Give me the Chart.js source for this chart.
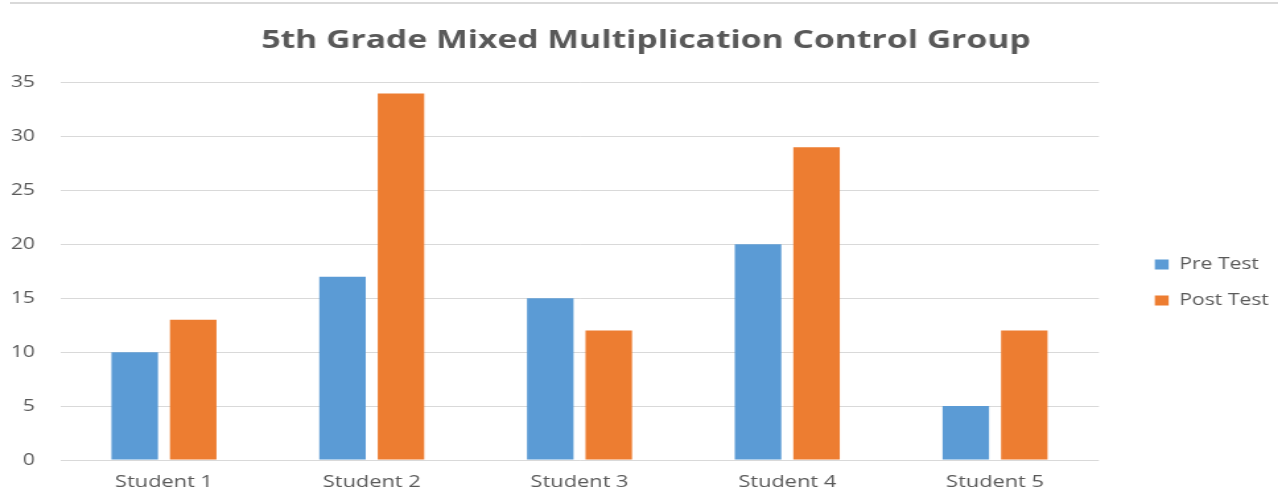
<!DOCTYPE html>
<html>
<head>
<meta charset="utf-8">
<script src="https://cdn.jsdelivr.net/npm/chart.js@4.4.0/dist/chart.umd.min.js"></script>
<style>
  html, body { margin: 0; padding: 0; background: #fff; overflow: hidden; }
  #wrap { position: relative; width: 1286px; height: 501px; }
  #topline { position: absolute; top: 2px; left: 10px; right: 8px; height: 2px; background: #d9d9d9; }
  /* the original picture is stretched sideways, so the chart is drawn narrow and widened */
  #stretch { position: absolute; left: 0; top: 0; transform: scaleX(1.3203); transform-origin: 0 0; }
</style>
</head>
<body>
<div id="wrap">
  <div id="topline"></div>
  <div id="stretch"><canvas id="chart" width="974" height="501"></canvas></div>
</div>
<script>
const categories = ['Student 1', 'Student 2', 'Student 3', 'Student 4', 'Student 5'];
const preTest = [10, 17, 15, 20, 5];
const postTest = [13, 34, 12, 29, 12];
const yTicks = [0, 5, 10, 15, 20, 25, 30, 35];

const textColor = '#595959';
const gridColor = '#d9d9d9';
const font = 'Open Sans';

new Chart(document.getElementById('chart'), {
    type: 'bar',
    data: {
        labels: categories,
        datasets: [{
            label: 'Pre Test',
            data: preTest,
            backgroundColor: '#5b9bd5',
            categoryPercentage: 0.563,
            barPercentage: 0.795
        }, {
            label: 'Post Test',
            data: postTest,
            backgroundColor: '#ed7d31',
            categoryPercentage: 0.563,
            barPercentage: 0.795
        }]
    },
    options: {
        responsive: false,
        animation: false,
        layout: { padding: { left: 7.5, right: 3, bottom: 0 } },
        plugins: {
            title: {
                display: true,
                text: '5th Grade Mixed Multiplication Control Group',
                color: textColor,
                font: { family: font, size: 25.5, weight: 'bold' },
                padding: { top: 25, bottom: 27 }
            },
            legend: {
                position: 'right',
                // empty title, pushes the two entries down to the middle of the plot
                title: {
                    display: true,
                    text: '',
                    font: { size: 10 },
                    padding: { top: 0, bottom: 52 }
                },
                labels: {
                    color: textColor,
                    font: { family: font, size: 16 },
                    boxWidth: 10.5,
                    boxHeight: 10,
                    padding: 20
                }
            },
            tooltip: { enabled: false }
        },
        scales: {
            x: {
                grid: { display: false, drawTicks: false },
                border: { display: false },
                ticks: {
                    color: textColor,
                    font: { family: font, size: 16.5 },
                    padding: 12.5
                },
                afterFit: function (axis) { axis.height = 41; }
            },
            y: {
                min: 0,
                max: 35,
                afterBuildTicks: function (axis) {
                    axis.ticks = yTicks.map(function (v) { return { value: v }; });
                },
                grid: { color: gridColor, lineWidth: 1, drawTicks: false },
                border: { display: false },
                ticks: {
                    color: textColor,
                    font: { family: font, size: 16 },
                    padding: 19
                },
                afterFit: function (axis) { axis.width = 38; }
            },
            // empty axis, only keeps a gap between the bars and the legend
            gap: {
                position: 'right',
                display: true,
                grid: { display: false, drawTicks: false },
                border: { display: false },
                ticks: { display: false },
                afterFit: function (axis) { axis.width = 22.3; }
            }
        }
    }
});
</script>
</body>
</html>
